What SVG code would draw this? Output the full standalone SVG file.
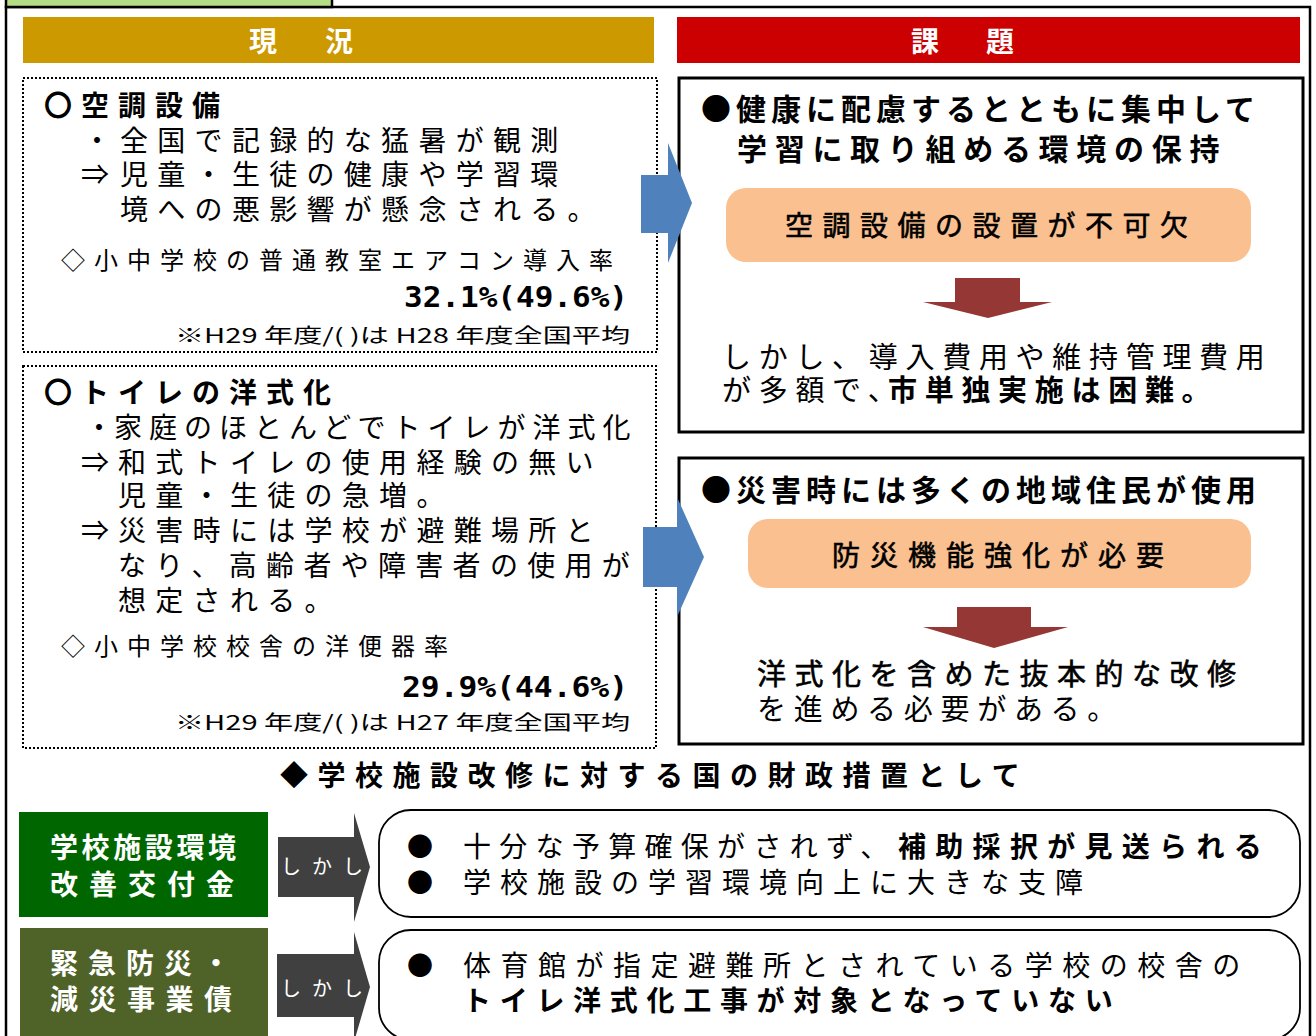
<svg xmlns="http://www.w3.org/2000/svg" width="1316" height="1036" viewBox="0 0 1316 1036">
<style>
text{font-family:"Noto Sans CJK JP","Noto Sans CJK SC",sans-serif;fill:#000}
.b{font-weight:bold}
.hdr{font-size:28px;font-weight:bold;fill:#fff;letter-spacing:10px}
.body{font-size:28px;letter-spacing:9.3px}
.ttl{font-size:28px;font-weight:bold;letter-spacing:9px}
.stat{font-size:24px;letter-spacing:9px}
.note{font-size:20px;letter-spacing:0}
.num{font-family:"DejaVu Sans Mono","Liberation Mono",monospace;font-size:29px;font-weight:bold;letter-spacing:0}
.rb{font-size:30px;font-weight:bold}
.rt{font-size:29px;letter-spacing:7.7px}
.med{stroke:#000;stroke-width:0.6}
.pill{font-size:28px;letter-spacing:9.5px}
.dot{fill:#fff;stroke:#000;stroke-width:2;stroke-dasharray:2 2}
.sol{fill:#fff;stroke:#000;stroke-width:3}
.rnd{fill:#fff;stroke:#000;stroke-width:1.8}
.org{fill:#fac090}
.blue{fill:#4f81bd}
.red{fill:#953735}
.gray{fill:#404040}
.bt{font-size:28px;letter-spacing:8.3px}
.bul{font-size:26px;letter-spacing:0}
.lab{font-size:28px;font-weight:bold;fill:#fff}
.sk{font-size:20px;fill:#fff;letter-spacing:11px}
</style>
<rect x="0" y="0" width="1316" height="1036" fill="#fff"/>
<g id="frame">
<rect x="6" y="7" width="1304" height="1045" fill="none" stroke="#000" stroke-width="2.5"/>
<rect x="6" y="-10" width="326" height="17" fill="#b3de86" stroke="#000" stroke-width="2.5"/>
</g>
<g id="header-genkyo">
<rect x="23" y="17" width="631" height="46" fill="#cc9900"/>
<text class="hdr" x="249" y="52">現　況</text>
</g>
<g id="header-kadai">
<rect x="677" y="17" width="623" height="46" fill="#cc0000"/>
<text class="hdr" x="911" y="52" style="letter-spacing:9.5px">課　題</text>
</g>
<g id="node-aircon-status">
<rect class="dot" x="23" y="78" width="634" height="274"/>
<text class="body">
<tspan class="ttl" x="44" y="116">〇空調設備</tspan>
<tspan x="83" y="151">・</tspan><tspan x="120" y="151">全国で記録的な猛暑が観測</tspan>
<tspan x="81" y="185">⇒</tspan><tspan x="120" y="185">児童・生徒の健康や学習環</tspan>
<tspan x="120" y="220">境への悪影響が懸念される。</tspan>
<tspan class="stat" x="61" y="269">◇小中学校の普通教室エアコン導入率</tspan>
<tspan class="num" x="404" y="307" textLength="224" lengthAdjust="spacingAndGlyphs">32.1%(49.6%)</tspan>
<tspan class="note" x="175" y="343" textLength="455" lengthAdjust="spacingAndGlyphs">※H29 年度/( )は H28 年度全国平均</tspan>
</text>
</g>
<g id="node-toilet-status">
<rect class="dot" x="23" y="366" width="633" height="382"/>
<text class="body">
<tspan class="ttl" x="44" y="403">〇トイレの洋式化</tspan>
<tspan x="85" y="438">・</tspan><tspan x="114" y="438" style="letter-spacing:7px">家庭のほとんどでトイレが洋式化</tspan>
<tspan x="81" y="473">⇒</tspan><tspan x="118" y="473">和式トイレの使用経験の無い</tspan>
<tspan x="118" y="506">児童・生徒の急増。</tspan>
<tspan x="81" y="541">⇒</tspan><tspan x="118" y="541">災害時には学校が避難場所と</tspan>
<tspan x="118" y="576">なり、高齢者や障害者の使用が</tspan>
<tspan x="118" y="611">想定される。</tspan>
<tspan class="stat" x="61" y="655">◇小中学校校舎の洋便器率</tspan>
<tspan class="num" x="402" y="697" textLength="226" lengthAdjust="spacingAndGlyphs">29.9%(44.6%)</tspan>
<tspan class="note" x="175" y="730" textLength="455" lengthAdjust="spacingAndGlyphs">※H29 年度/( )は H27 年度全国平均</tspan>
</text>
</g>
<g id="node-aircon-issue">
<rect class="sol" x="679" y="78" width="624" height="354"/>
<text class="rb">
<tspan x="701" y="120" style="letter-spacing:5px">●健康に配慮するとともに集中して</tspan>
<tspan x="737" y="160" style="letter-spacing:7.7px">学習に取り組める環境の保持</tspan>
</text>
<rect class="org" x="726" y="188" width="525" height="74" rx="20"/>
<text class="pill med" x="785" y="236">空調設備の設置が不可欠</text>
<text class="rt">
<tspan x="722" y="368">しかし、導入費用や維持管理費用</tspan>
<tspan x="722" y="401">が多額で、</tspan><tspan class="b" x="888" y="401">市単独実施は困難。</tspan>
</text>
</g>
<g id="node-toilet-issue">
<rect class="sol" x="679" y="458" width="624" height="286"/>
<text class="rb" x="701" y="501" style="letter-spacing:5px">●災害時には多くの地域住民が使用</text>
<rect class="org" x="748" y="519" width="503" height="69" rx="20"/>
<text class="pill med" x="832" y="566" style="letter-spacing:10px">防災機能強化が必要</text>
<text class="rt">
<tspan class="med" x="757" y="685" style="letter-spacing:8.5px">洋式化を含めた抜本的な改修</tspan>
<tspan x="757" y="720">を進める必要がある。</tspan>
</text>
</g>
<g id="node-section-title">
<text class="ttl" x="280" y="786" style="letter-spacing:9.5px">◆学校施設改修に対する国の財政措置として</text>
</g>
<g id="node-grant">
<rect x="19" y="812" width="249" height="105" fill="#006600"/>
<text class="lab">
<tspan x="50" y="858" style="letter-spacing:3.6px">学校施設環境</tspan>
<tspan x="50" y="895" style="letter-spacing:11px">改善交付金</tspan>
</text>
</g>
<g id="node-bond">
<rect x="20" y="928" width="248" height="108" fill="#4f6228"/>
<text class="lab">
<tspan x="50" y="974" style="letter-spacing:10px">緊急防災・</tspan>
<tspan x="50" y="1010" style="letter-spacing:10.5px">減災事業債</tspan>
</text>
</g>
<g id="node-grant-issue">
<rect class="rnd" x="379" y="810" width="921" height="107" rx="32"/>
<text class="bt">
<tspan class="bul" x="407" y="856">●</tspan><tspan x="463" y="857">十分な予算確保がされず、</tspan><tspan class="b" x="898" y="857" style="letter-spacing:9.3px">補助採択が見送られる</tspan>
<tspan class="bul" x="407" y="892">●</tspan><tspan x="463" y="893" style="letter-spacing:9px">学校施設の学習環境向上に大きな支障</tspan>
</text>
</g>
<g id="node-bond-issue">
<rect class="rnd" x="379" y="930" width="921" height="110" rx="32"/>
<text class="bt">
<tspan class="bul" x="407" y="975">●</tspan><tspan x="463" y="976" style="letter-spacing:9.5px">体育館が指定避難所とされている学校の校舎の</tspan>
<tspan class="b" x="463" y="1011" style="letter-spacing:8.7px">トイレ洋式化工事が対象となっていない</tspan>
</text>
</g>
<g id="connectors">
<polygon class="blue" points="641,175 668,175 668,143 692,203 668,263 668,233 641,233"/>
<polygon class="blue" points="643,527 677,527 677,497 704,557 677,617 677,587 643,587"/>
<polygon class="red" points="955,278 1020,278 1020,302 1052,302 988,318 923,302 955,302"/>
<polygon class="red" points="957,607 1031,607 1031,627 1068,627 994,648 923,627 957,627"/>
<polygon class="gray" points="278,837 354,837 354,813 370,867 354,922 354,897 278,897"/>
<text class="sk" x="281" y="874">しかし</text>
<polygon class="gray" points="277,954 354,954 354,932 370,987 354,1042 354,1017 277,1017"/>
<text class="sk" x="281" y="996">しかし</text>
</g>
</svg>
